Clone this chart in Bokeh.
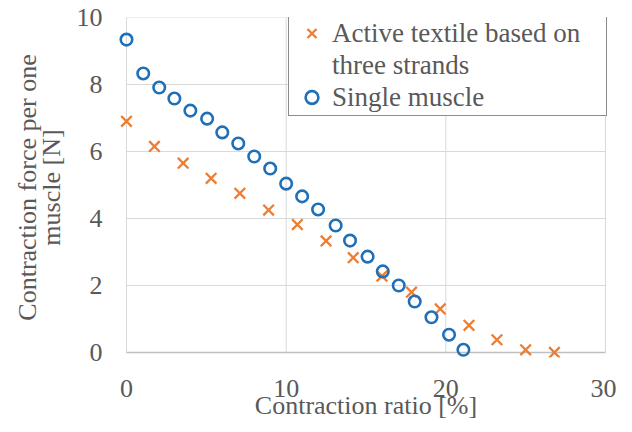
from bokeh.plotting import figure
from bokeh.models import Range1d, FixedTicker, Legend, LegendItem
from bokeh.embed import file_html
from bokeh.resources import INLINE

# Data
textile_x = [0.0, 1.75, 3.55, 5.3, 7.1, 8.9, 10.7, 12.5, 14.2, 16.0, 17.85, 19.65, 21.45, 23.2, 25.0, 26.8]
textile_y = [6.9, 6.15, 5.65, 5.2, 4.75, 4.25, 3.82, 3.33, 2.83, 2.28, 1.8, 1.3, 0.81, 0.38, 0.08, 0.0]

single_x = [0.0, 1.05, 2.05, 3.0, 4.0, 5.05, 6.0, 7.0, 8.0, 9.0, 10.0, 11.0, 12.0, 13.1, 14.0, 15.1, 16.05, 17.05, 18.05, 19.1, 20.2, 21.1]
single_y = [9.34, 8.33, 7.91, 7.58, 7.22, 6.98, 6.57, 6.24, 5.85, 5.49, 5.04, 4.66, 4.27, 3.79, 3.34, 2.86, 2.42, 2.0, 1.52, 1.05, 0.53, 0.08]

x_ticks = [0, 10, 20, 30]
y_ticks = [0, 2, 4, 6, 8, 10]

x_title = "Contraction ratio [%]"
y_title = "Contraction force per one\nmuscle [N]"
label_textile_lines = ["Active textile based on", "three strands"]
label_single = "Single muscle"

FONT = "Liberation Serif, Tinos, Times New Roman, DejaVu Serif, serif"
TEXT = "#595959"
GRID = "#D9D9D9"
ORANGE = "#ED7D31"
BLUE = "#1F70B8"

p = figure(
    output_backend="svg", toolbar_location=None,
    width=616, height=416,
    frame_width=495, frame_height=340,
    min_border_left=118, min_border_top=17, min_border_right=3, min_border_bottom=59,
    x_range=Range1d(-0.5, 30.5), y_range=Range1d(-0.15, 10),
    background_fill_color="white", border_fill_color="white",
)
p.outline_line_color = None
p.grid.visible = False

# grid lines limited to the tick span
n_x = len(x_ticks)
n_y = len(y_ticks)
p.segment(x0=x_ticks, x1=x_ticks, y0=[y_ticks[0]] * n_x, y1=[y_ticks[-1]] * n_x,
          line_color=GRID, line_width=1)
p.segment(x0=[x_ticks[0]] * (n_y - 1), x1=[x_ticks[-1]] * (n_y - 1), y0=y_ticks[1:], y1=y_ticks[1:],
          line_color=GRID, line_width=1)
# horizontal axis line at y = 0
p.segment(x0=[x_ticks[0]], x1=[x_ticks[-1]], y0=[y_ticks[0]], y1=[y_ticks[0]],
          line_color="#BFBFBF", line_width=1.3)

r1 = p.scatter(textile_x, textile_y, marker="x", size=15, line_color=ORANGE, line_width=2.3)
r2 = p.scatter(single_x, single_y, marker="circle", size=11.5, line_color=BLUE, fill_color=None, line_width=2.6)
r_blank = p.scatter(x=[], y=[], marker="x", line_alpha=0, fill_alpha=0)

for ax in (p.xaxis[0], p.yaxis[0]):
    ax.axis_line_color = None
    ax.major_tick_line_color = None
    ax.minor_tick_line_color = None
    ax.major_tick_out = 0
    ax.major_tick_in = 0
    ax.minor_tick_out = 0
    ax.minor_tick_in = 0
    ax.major_label_text_font = FONT
    ax.major_label_text_font_size = "26px"
    ax.major_label_text_color = TEXT
    ax.axis_label_text_font = FONT
    ax.axis_label_text_font_size = "26px"
    ax.axis_label_text_color = TEXT
    ax.axis_label_text_font_style = "normal"

p.xaxis.ticker = FixedTicker(ticks=x_ticks)
p.yaxis.ticker = FixedTicker(ticks=y_ticks)
p.xaxis.major_label_standoff = 22
p.yaxis.major_label_standoff = 16
p.xaxis.axis_label = x_title
p.yaxis.axis_label = y_title
p.xaxis.axis_label_standoff = -9
p.yaxis.axis_label_standoff = 8
p.yaxis.axis_label_text_line_height = 0.82

legend = Legend(
    items=[LegendItem(label=label_textile_lines[0], renderers=[r1]),
           LegendItem(label=label_textile_lines[1], renderers=[r_blank]),
           LegendItem(label=label_single, renderers=[r2])],
    location=(170, 241), margin=0, padding=2, spacing=0,
    glyph_width=41, glyph_height=32, label_height=32, label_standoff=0, label_width=272,
    label_text_font=FONT, label_text_font_size="27px", label_text_color=TEXT,
    border_line_color="#1a1a1a", border_line_width=1.5, background_fill_alpha=1,
)
p.add_layout(legend, "center")

open("out.html", "w").write(file_html(p, INLINE))
